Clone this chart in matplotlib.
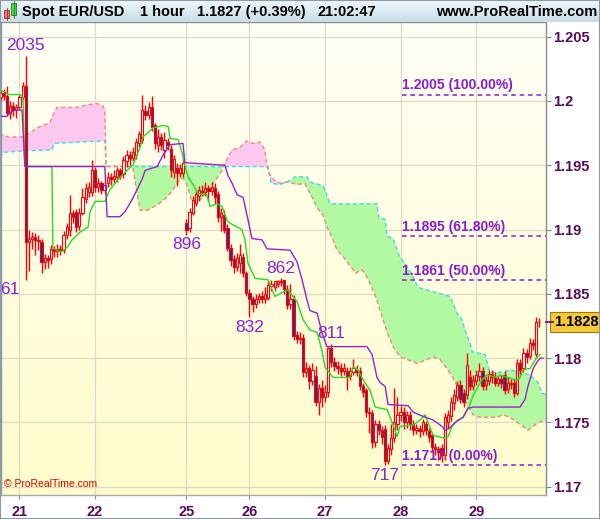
import numpy as np
import matplotlib.pyplot as plt
from matplotlib.patches import Rectangle

plt.rcParams['font.family'] = ['Liberation Sans', 'DejaVu Sans']

# Spot EUR/USD, 1 hour candles. Prices are the last four digits: 2006 -> 1.2006
opens = [2003, 2006, 2004, 1991, 1996, 1993, 1995, 2003, 2012, 1890,
         1893, 1894, 1892, 1890, 1875, 1878, 1877, 1885, 1883, 1885,
         1884, 1896, 1900, 1913, 1914, 1903, 1913, 1924, 1929, 1929,
         1946, 1933, 1936, 1931, 1936, 1941, 1939, 1941, 1946, 1943,
         1953, 1958, 1956, 1958, 1967, 1970, 1992, 1989, 1995, 1981,
         1966, 1972, 1962, 1968, 1963, 1945, 1948, 1944, 1944, 1905,
         1901, 1913, 1921, 1926, 1930, 1929, 1932, 1930, 1932, 1928,
         1910, 1911, 1901, 1886, 1877, 1871, 1874, 1879, 1866, 1851,
         1846, 1842, 1846, 1848, 1846, 1847, 1856, 1855, 1858, 1860,
         1861, 1854, 1842, 1846, 1818, 1815, 1816, 1789, 1792, 1782,
         1786, 1766, 1777, 1770, 1774, 1808, 1797, 1794, 1792, 1790,
         1790, 1786, 1789, 1791, 1790, 1778, 1775, 1758, 1757, 1735,
         1749, 1744, 1745, 1720, 1729, 1738, 1749, 1756, 1758, 1750,
         1756, 1749, 1744, 1745, 1743, 1749, 1743, 1740, 1731, 1729,
         1730, 1725, 1750, 1755, 1765, 1770, 1779, 1773, 1771, 1785,
         1778, 1782, 1786, 1790, 1779, 1782, 1788, 1785, 1781, 1784,
         1787, 1776, 1781, 1781, 1773, 1796, 1792, 1804, 1802, 1812,
         1803, 1828]
highs = [2008, 2009, 2012, 2000, 1999, 1998, 2005, 2015, 2035, 1900,
         1898, 1897, 1896, 1893, 1881, 1880, 1888, 1887, 1889, 1888,
         1899, 1905, 1927, 1915, 1916, 1917, 1932, 1936, 1937, 1954,
         1949, 1940, 1938, 1938, 1945, 1944, 1946, 1949, 1948, 1957,
         1962, 1961, 1964, 1971, 1977, 2005, 1997, 1999, 2004, 1983,
         1978, 1975, 1976, 1971, 1966, 1958, 1952, 1951, 1956, 1908,
         1917, 1926, 1931, 1934, 1935, 1937, 1935, 1937, 1936, 1930,
         1917, 1915, 1904, 1889, 1880, 1882, 1889, 1882, 1868, 1854,
         1848, 1850, 1851, 1852, 1855, 1861, 1861, 1860, 1861, 1862,
         1861, 1857, 1858, 1849, 1821, 1820, 1819, 1797, 1795, 1796,
         1794, 1780, 1783, 1779, 1809, 1811, 1801, 1798, 1796, 1796,
         1793, 1793, 1799, 1795, 1793, 1781, 1777, 1762, 1760, 1752,
         1752, 1747, 1748, 1733, 1749, 1777, 1770, 1763, 1762, 1759,
         1759, 1752, 1749, 1748, 1753, 1751, 1746, 1742, 1734, 1732,
         1733, 1757, 1760, 1770, 1776, 1782, 1783, 1776, 1804, 1791,
         1787, 1791, 1796, 1793, 1786, 1791, 1791, 1789, 1787, 1787,
         1790, 1785, 1784, 1784, 1799, 1799, 1808, 1807, 1816, 1815,
         1832, 1831]
lows = [2001, 2001, 1989, 1986, 1988, 1987, 1994, 2001, 1861, 1868,
        1885, 1880, 1884, 1866, 1869, 1870, 1873, 1879, 1879, 1880,
        1882, 1893, 1895, 1905, 1898, 1900, 1911, 1921, 1925, 1926,
        1929, 1929, 1928, 1928, 1933, 1935, 1936, 1937, 1939, 1940,
        1949, 1950, 1953, 1955, 1964, 1967, 1985, 1986, 1977, 1963,
        1960, 1962, 1956, 1962, 1941, 1940, 1934, 1941, 1941, 1896,
        1898, 1911, 1918, 1922, 1926, 1926, 1922, 1927, 1920, 1906,
        1899, 1897, 1883, 1872, 1866, 1868, 1866, 1863, 1848, 1832,
        1836, 1839, 1843, 1843, 1843, 1845, 1852, 1852, 1855, 1856,
        1850, 1838, 1838, 1814, 1812, 1811, 1785, 1785, 1776, 1779,
        1763, 1756, 1762, 1766, 1770, 1793, 1790, 1788, 1786, 1787,
        1775, 1783, 1787, 1786, 1775, 1770, 1754, 1742, 1730, 1731,
        1740, 1733, 1717, 1718, 1725, 1735, 1744, 1751, 1745, 1746,
        1744, 1740, 1741, 1739, 1740, 1740, 1735, 1727, 1725, 1721,
        1719, 1721, 1745, 1751, 1760, 1767, 1765, 1762, 1768, 1775,
        1775, 1779, 1782, 1775, 1775, 1779, 1781, 1778, 1778, 1777,
        1772, 1773, 1776, 1770, 1771, 1787, 1789, 1796, 1799, 1806,
        1800, 1824]
closes = [2006, 2004, 1991, 1996, 1993, 1995, 2003, 2012, 1890, 1893,
          1894, 1892, 1891, 1875, 1878, 1876, 1885, 1883, 1885, 1884,
          1896, 1902, 1913, 1910, 1902, 1913, 1925, 1932, 1933, 1946,
          1933, 1936, 1931, 1935, 1941, 1939, 1942, 1946, 1942, 1954,
          1958, 1956, 1960, 1968, 1974, 1993, 1989, 1995, 1980, 1967,
          1972, 1966, 1970, 1966, 1946, 1955, 1944, 1948, 1952, 1900,
          1914, 1923, 1928, 1931, 1929, 1932, 1930, 1933, 1925, 1910,
          1913, 1900, 1886, 1876, 1871, 1878, 1880, 1866, 1851, 1846,
          1842, 1846, 1848, 1846, 1850, 1857, 1858, 1860, 1860, 1859,
          1854, 1841, 1846, 1817, 1815, 1816, 1789, 1792, 1782, 1791,
          1766, 1777, 1770, 1774, 1808, 1797, 1794, 1792, 1790, 1792,
          1785, 1790, 1792, 1789, 1778, 1774, 1758, 1757, 1735, 1749,
          1744, 1739, 1720, 1730, 1738, 1750, 1756, 1758, 1750, 1756,
          1749, 1744, 1746, 1743, 1750, 1744, 1739, 1731, 1729, 1727,
          1725, 1754, 1756, 1766, 1771, 1779, 1768, 1766, 1795, 1778,
          1783, 1787, 1790, 1778, 1783, 1788, 1785, 1781, 1784, 1781,
          1775, 1781, 1780, 1773, 1796, 1791, 1804, 1801, 1812, 1810,
          1828, 1828]

day_ticks = [6, 30, 59, 79, 103, 127, 151]
day_labels = ['21', '22', '25', '26', '27', '28', '29']
price_ticks = [1.17, 1.175, 1.18, 1.185, 1.19, 1.195, 1.2, 1.205]
price_labels = ['1.17', '1.175', '1.18', '1.185', '1.19', '1.195', '1.2', '1.205']

# ichimoku lines as (bar, price) vertices
tenkan = [(-0.2, 2008), (1.7, 2007), (2.3, 2005), (6.2, 2005), (7.1, 2003), (7.7, 1949),
          (16.3, 1949), (16.6, 1886), (18.5, 1883), (19.5, 1883), (21.1, 1886), (22.7, 1892),
          (25.2, 1898), (27.8, 1902), (28.4, 1914), (30, 1922), (33.1, 1922), (34.7, 1931),
          (37.3, 1939), (40.1, 1946), (42, 1950), (44.3, 1964), (45.2, 1972), (48.4, 1979),
          (51.6, 1981), (53.2, 1980), (53.8, 1971), (56.3, 1970), (57.6, 1960), (58.5, 1950),
          (59.5, 1941), (61.1, 1935), (62.7, 1928), (65.5, 1927), (66.5, 1918), (68.7, 1920),
          (70.3, 1918), (71.9, 1907), (72.8, 1905), (76.6, 1900), (77.6, 1892), (78.5, 1874),
          (80.8, 1862), (84.9, 1861), (87.1, 1848), (89.3, 1851), (91.2, 1853), (94.1, 1844),
          (96, 1830), (98.2, 1822), (100.5, 1820), (102, 1806), (103, 1793), (105.5, 1785),
          (110.9, 1785), (111.9, 1793), (113.2, 1792), (115.1, 1783), (117.3, 1775), (118.9, 1762),
          (122.7, 1760), (124.3, 1750), (125.9, 1739), (126.8, 1747), (131, 1748), (133.2, 1752),
          (134.8, 1756), (135.7, 1750), (137.3, 1740), (140.5, 1738), (142.1, 1739), (143.3, 1747),
          (145.2, 1752), (146.8, 1754), (148.1, 1760), (149, 1764), (150, 1771), (151.6, 1778),
          (152.8, 1783), (154.4, 1787), (157.6, 1785), (158.5, 1787), (160.8, 1785), (164, 1783),
          (164.9, 1785), (165.9, 1791), (168.1, 1792), (169.1, 1796), (170.3, 1801), (171.3, 1803)]
kijun = [(-0.2, 1988), (2, 1988), (3, 1991), (4.6, 1993), (6.8, 1993), (7.7, 1949),
         (33.1, 1949), (33.8, 1910), (37.9, 1910), (39.5, 1914), (41.7, 1923), (43.3, 1931),
         (44.9, 1939), (45.9, 1946), (49.7, 1949), (51.6, 1958), (53.8, 1966), (57.9, 1967),
         (58.5, 1952), (71.2, 1950), (72.2, 1942), (73.5, 1936), (75.1, 1927), (77, 1925),
         (78.6, 1907), (79.8, 1893), (83, 1892), (84.6, 1885), (91.9, 1884), (94.1, 1875),
         (95.7, 1861), (97.3, 1845), (98.2, 1837), (100.5, 1835), (102, 1820), (103.6, 1809),
         (116.3, 1809), (117.9, 1803), (119.5, 1785), (120.5, 1781), (122.1, 1778), (123, 1764),
         (129.4, 1763), (131, 1758), (134.8, 1754), (137.3, 1752), (140.1, 1747), (141.1, 1744),
         (142.7, 1746), (144.3, 1750), (146.8, 1754), (148.4, 1761), (150, 1762), (164.9, 1762),
         (166.5, 1768), (167.4, 1778), (169.1, 1792), (170.3, 1797), (171.3, 1800), (172.2, 1800)]
span_a = [(-0.2, 1956), (0.8, 1960), (6.2, 1961), (16.3, 1962), (17, 1967), (33.1, 1969),
          (33.5, 1949), (84.9, 1949), (85.9, 1936), (88.7, 1935), (90.9, 1937), (92.5, 1939),
          (93.5, 1941), (97.3, 1941), (98.2, 1937), (102.4, 1934), (104.6, 1920), (119.5, 1920),
          (120.1, 1909), (122.1, 1908), (122.7, 1895), (124.6, 1893), (126.8, 1878), (128.4, 1874),
          (131, 1863), (132.5, 1855), (135.4, 1853), (142.7, 1848), (143.6, 1843), (144.9, 1835),
          (146.5, 1830), (147.4, 1822), (149, 1812), (149.7, 1805), (153.8, 1803), (154.8, 1793),
          (155.4, 1789), (159.5, 1789), (161.7, 1791), (164.9, 1789), (168.1, 1787), (170.6, 1781),
          (171.9, 1773), (173.5, 1771)]
span_b = [(-0.2, 1972), (0.8, 1974), (2.3, 1972), (7.1, 1972), (9.3, 1975), (11.5, 1979),
          (13.5, 1981), (15.7, 1983), (16.6, 1989), (17.9, 1995), (24.3, 1995), (27.4, 1997),
          (30.6, 1998), (32.5, 1996), (33.1, 1993), (33.5, 1949), (42, 1949), (43.3, 1928),
          (44.3, 1915), (46.5, 1915), (49.7, 1919), (52.8, 1925), (54.7, 1931), (56.3, 1937),
          (57.9, 1940), (59.2, 1935), (60.8, 1921), (63.3, 1923), (65.5, 1929), (67.1, 1935),
          (68.7, 1940), (70.3, 1946), (70.6, 1949), (73.5, 1962), (76, 1964), (78.2, 1969),
          (80.1, 1967), (82.4, 1968), (83.9, 1962), (84.6, 1949), (85.2, 1944), (86.5, 1939),
          (88.7, 1936), (90.9, 1937), (92.8, 1936), (94.1, 1935), (96.6, 1936), (97.6, 1931),
          (98.9, 1925), (100.5, 1917), (102.4, 1911), (103.6, 1902), (105.2, 1894), (106.8, 1884),
          (108.7, 1879), (110.9, 1872), (112.8, 1866), (114.4, 1869), (115.7, 1866), (117.3, 1858),
          (118.9, 1849), (120.5, 1837), (122.7, 1820), (124.6, 1809), (126.8, 1801), (129, 1799),
          (132.2, 1796), (135.4, 1799), (137.3, 1801), (139.5, 1799), (141.7, 1792), (143.6, 1785),
          (145.2, 1777), (148.1, 1764), (150, 1756), (152.2, 1754), (154.4, 1754), (157.6, 1754),
          (159.5, 1756), (161.7, 1754), (164, 1750), (165.9, 1747), (167.4, 1744), (169.1, 1747),
          (170.6, 1750), (173.5, 1752)]

fib_levels = [2005, 1895, 1861, 1717]
fib_labels = ['1.2005 (100.00%)', '1.1895 (61.80%)', '1.1861 (50.00%)', '1.1717 (0.00%)']
fib_start = 127.3

ext_bars = [8, 59, 79, 89, 105, 122]
ext_values = [2035, 1896, 1832, 1862, 1811, 1717]
ext_labels = ['2035', '896', '832', '862', '811', '717']
ext_above = [True, False, False, True, True, False]


def to_price(v):
    return 1 + np.asarray(v, dtype=float) / 10000


W, H = 600, 519
fig = plt.figure(figsize=(W / 100, H / 100), dpi=100)
fig.patch.set_facecolor('white')

ax = fig.add_axes([1 / W, (H - 495) / H, 545 / W, (495 - 22) / H])
xlim = (0.13, 173.15)
ylim = (1.16936, 1.20614)

# yellowish background
grad = np.linspace(0, 1, 256)[:, None, None]
top_c = np.array([1.0, 1.0, 0.965])
bot_c = np.array([1.0, 0.99, 0.80])
bg = top_c * (1 - grad) + bot_c * grad
ax.imshow(bg, extent=[0, 1, 0, 1], transform=ax.transAxes, aspect='auto', zorder=-1)

ax.set_axisbelow(True)
ax.grid(True, color='#dcdcc6', lw=0.9)

# cloud
ax_x, ax_y = np.array(span_a).T
bx_x, bx_y = np.array(span_b).T
gx = np.union1d(ax_x, bx_x)
a_on = np.interp(gx, ax_x, to_price(ax_y))
b_on = np.interp(gx, bx_x, to_price(bx_y))
ax.fill_between(gx, a_on, b_on, where=a_on >= b_on, interpolate=True, color='#b2f9a2', lw=0, zorder=1)
ax.fill_between(gx, a_on, b_on, where=a_on < b_on, interpolate=True, color='#fdc8ef', lw=0, zorder=1)
ax.plot(ax_x, to_price(ax_y), color='#3adbe8', lw=1.0, ls=(0, (3, 2)), zorder=2)
ax.plot(bx_x, to_price(bx_y), color='#f2877c', lw=1.0, ls=(0, (3, 2)), zorder=2)

# fibonacci levels
for lev, lab in zip(fib_levels, fib_labels):
    p = to_price(lev)
    ax.plot([fib_start, xlim[1]], [p, p], color='#8a1ccf', lw=1.1, ls=(0, (3, 2.5)), zorder=2.5)
    ax.annotate(lab, (fib_start + 0.2, p), xytext=(0, 1.5), textcoords='offset points',
                ha='left', va='bottom', color='#8a1ccf', fontsize=10, fontweight='bold', zorder=6)

# candles
o, hi, lo, c = map(to_price, (opens, highs, lows, closes))
x = np.arange(len(o))
up = c >= o
ax.vlines(x, lo, hi, color='#ff0000', lw=1.0, zorder=3)
body_lo = np.minimum(o, c)
body_h = np.maximum(np.abs(c - o), 0.00004)
ax.bar(x, body_h, bottom=body_lo, width=0.72, color=np.where(up, 'white', '#3b2a8c'),
       edgecolor='#ff0000', linewidth=0.8, zorder=3.5)

# tenkan / kijun
tx, ty = np.array(tenkan).T
kx, ky = np.array(kijun).T
ax.plot(tx, to_price(ty), color='#22dd22', lw=1.0, zorder=4)
ax.plot(kx, to_price(ky), color='#9a22cc', lw=1.0, zorder=4)

# high / low labels
for b, v, t, above in zip(ext_bars, ext_values, ext_labels, ext_above):
    ax.annotate(t, (b, to_price(v)), xytext=(0, 2 if above else -2), textcoords='offset points',
                ha='center', va='bottom' if above else 'top', color='#8a22d8', fontsize=12.5, zorder=6)
# low of the spike bar, shown shortened at the left edge as in the source
ax.annotate('61', (8, to_price(1861)), xytext=(-4.5, -2), textcoords='offset points',
            ha='right', va='top', color='#8a22d8', fontsize=12.5, zorder=6)

ax.text(0.006, 0.012, '© ProRealTime.com', transform=ax.transAxes, color='#e00000',
        fontsize=7.5, ha='left', va='bottom', zorder=6)

ax.set_xlim(*xlim)
ax.set_ylim(*ylim)

ax.yaxis.tick_right()
ax.set_yticks(price_ticks, price_labels, fontweight='bold')
ax.set_xticks(day_ticks, day_labels, fontweight='bold')
ax.tick_params(axis='y', length=3.5, width=0.8, color='#8a8a8a', pad=1.5,
               labelsize=10.5, labelcolor='#5a0b5a')
ax.tick_params(axis='x', length=3, width=0.8, color='#8a8a8a', pad=4,
               labelsize=10.5, labelcolor='#5a0b5a')
for side, col in [('right', '#8c8c8c'), ('bottom', '#a8a8a8'), ('top', '#8c8c8c'), ('left', '#8a9aa8')]:
    ax.spines[side].set_color(col)
    ax.spines[side].set_linewidth(1.0)

# last price box
last = c[-1]
ax.plot([1.0, 1.012], [last, last], transform=ax.get_yaxis_transform(), color='#5a0b5a',
        lw=1.2, clip_on=False, zorder=6)
ax.text(1.014, last, f'{last:.4f}', transform=ax.get_yaxis_transform(), ha='left', va='center',
        fontsize=10.5, fontweight='bold', color='black', clip_on=False,
        bbox=dict(boxstyle='square,pad=0.22', fc='#f8c935', ec='#9a7a10', lw=0.8))

# header bar
hax = fig.add_axes([0, (H - 22) / H, 1, 22 / H])
hgrad = np.linspace(0, 1, 64)[:, None, None]
hbg = np.array([0.94, 0.97, 0.985]) * (1 - hgrad) + np.array([0.79, 0.87, 0.91]) * hgrad
hax.imshow(hbg, extent=[0, 1, 0, 1], aspect='auto')
hax.set_xlim(0, 1)
hax.set_ylim(0, 1)
hax.axis('off')
# small candle icon
hax.add_patch(Rectangle((4 / W, 0.18), 5 / W, 0.36, fc='#f07070', ec='#a03030', lw=0.6))
hax.plot([6.5 / W, 6.5 / W], [0.1, 0.62], color='#a03030', lw=0.6)
hax.add_patch(Rectangle((11 / W, 0.3), 5 / W, 0.55, fc='#44dd44', ec='#208020', lw=0.6))
hax.plot([13.5 / W, 13.5 / W], [0.2, 0.95], color='#208020', lw=0.6)
for xp, s in [(22, 'Spot EUR/USD'), (140, '1 hour'), (197, '1.1827 (+0.39%)'), (318, '21:02:47')]:
    hax.text(xp / W, 0.45, s, ha='left', va='center', fontsize=10.5, fontweight='bold', color='black')
hax.text(597 / W, 0.45, 'www.ProRealTime.com', ha='right', va='center', fontsize=10.5,
         fontweight='bold', color='black')

fig.add_artist(Rectangle((0, 0), 1, 1, transform=fig.transFigure, fill=False,
                         ec='#8a9aaa', lw=1.5))

fig.savefig('out.png', dpi=100)
